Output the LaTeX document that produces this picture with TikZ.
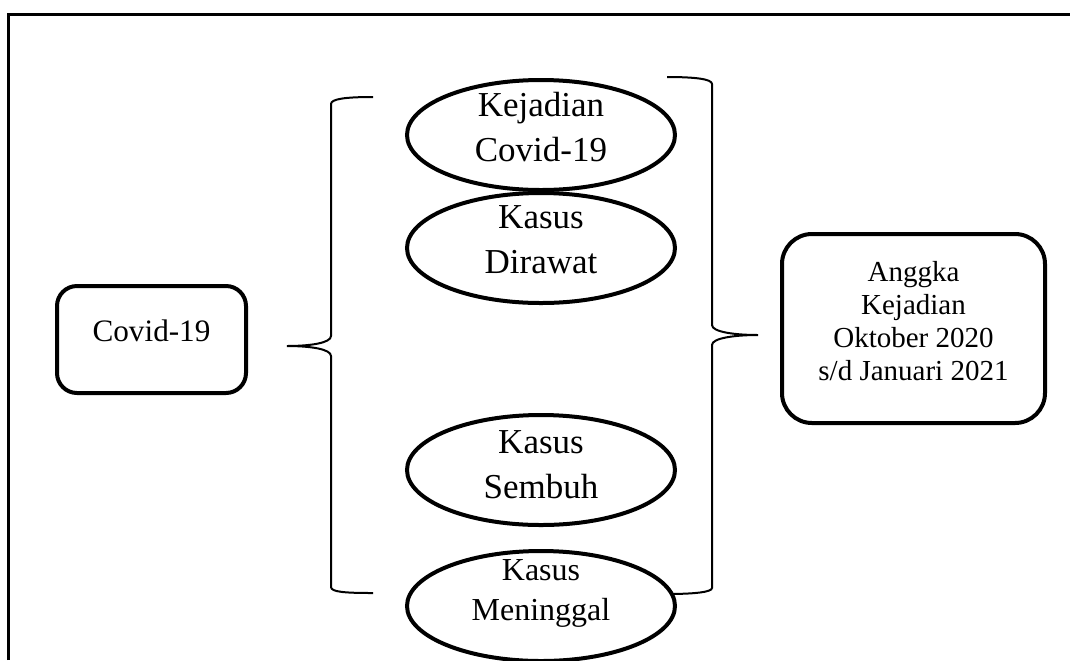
\documentclass[tikz,border=0pt]{standalone}
\usepackage{fontspec}
\setmainfont{Liberation Serif}
\usetikzlibrary{shapes, positioning}

\tikzset{
    kotak/.style={draw, line width=2pt, fill=white},
    elips/.style={draw, ellipse, line width=2pt, fill=white, minimum width=134pt, minimum height=55pt, inner sep=0pt},
    teks/.style={align=center, inner sep=0pt},
    kurung/.style={line width=1pt}
}

\begin{document}
\begin{tikzpicture}[x=0.5pt, y=-0.5pt]

    \useasboundingbox (0,0) rectangle (1071,660);
    \draw[line width=1.5pt] (8,660) -- (8,14) -- (1070,14);

    \draw[kurung] (373,97) .. controls (345,97) and (331,99) .. (331,104) -- (331,336)
        .. controls (331,343) and (310,346) .. (287,346)
        .. controls (310,346) and (331,349) .. (331,356) -- (331,587)
        .. controls (331,592) and (345,593) .. (373,593);

    \draw[kurung] (667,77) .. controls (695,77) and (712,79) .. (712,84) -- (712,325)
        .. controls (712,332) and (735,335) .. (758,335)
        .. controls (735,335) and (712,338) .. (712,345) -- (712,588)
        .. controls (712,592) and (695,594) .. (667,594);

    \node[kotak, rounded corners=10pt, minimum width=94.5pt, minimum height=53.5pt,
        label={[teks, yshift=4.5pt, font=\fontsize{15.6}{17}\selectfont]center:Covid-19}] (covid) at (151.5,339.5) {};

    \node[elips, label={[teks, yshift=4pt, font=\fontsize{17.5}{22.5}\selectfont]center:{Kejadian\\Covid-19}}] (kejadian) at (541,135) {};
    \node[elips, label={[teks, yshift=4pt, font=\fontsize{17.5}{22.5}\selectfont]center:{Kasus\\Dirawat}}] (dirawat) at (541,248) {};
    \node[elips, label={[teks, yshift=2.5pt, font=\fontsize{17.5}{22.5}\selectfont]center:{Kasus\\Sembuh}}] (sembuh) at (541,470) {};
    \node[elips, label={[teks, yshift=6.5pt, font=\fontsize{16}{20}\selectfont]center:{Kasus\\Meninggal}}] (meninggal) at (541,606) {};

    \node[kotak, rounded corners=15pt, minimum width=131.5pt, minimum height=94.5pt,
        label={[teks, yshift=3.75pt, font=\fontsize{14.5}{16.5}\selectfont]center:{Anggka\\Kejadian\\Oktober 2020\\s/d Januari 2021}}] (angka) at (913.5,328.5) {};

\end{tikzpicture}
\end{document}
